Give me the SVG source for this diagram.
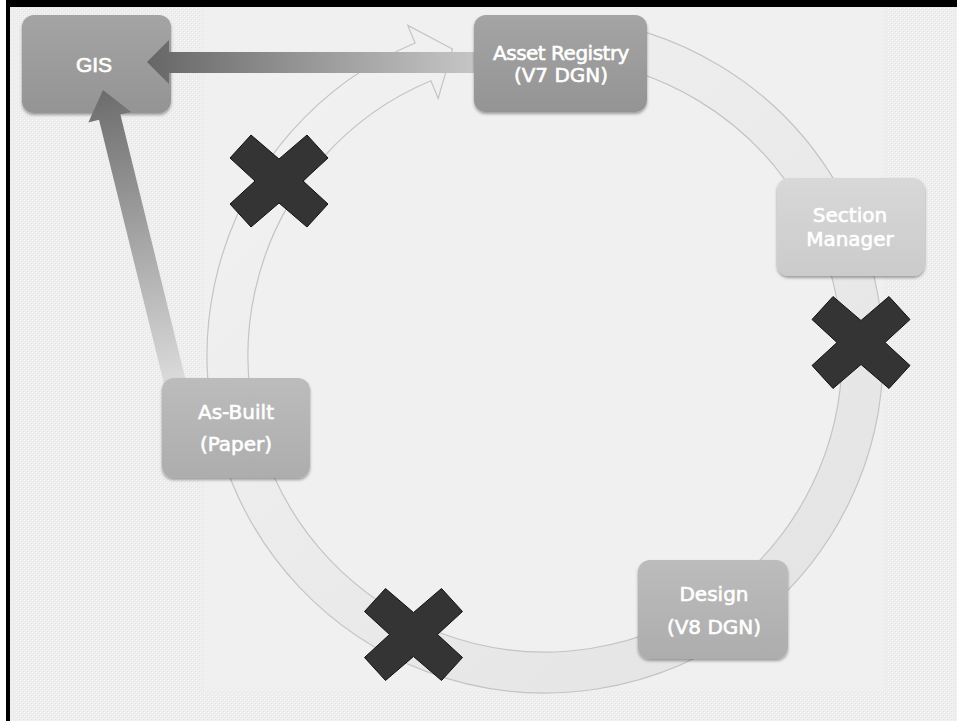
<svg xmlns="http://www.w3.org/2000/svg" width="957" height="721" viewBox="0 0 957 721">
<defs>
<style>
.lbl{font-family:"DejaVu Sans",sans-serif;font-size:20px;fill:#ffffff;stroke:#ffffff;stroke-width:0.6;text-anchor:middle}
.gis{font-family:"Liberation Sans",sans-serif;font-size:21px;fill:#ffffff;stroke:#ffffff;stroke-width:0.7;text-anchor:middle}
.box{filter:url(#sh)}
.x{fill:#343434;stroke:#111111;stroke-width:1}
</style>
<pattern id="tex" width="4" height="4" patternUnits="userSpaceOnUse">
<rect width="4" height="4" fill="#eeeeee"/>
<rect x="0" y="0" width="1" height="1" fill="#f7f7f7"/>
<rect x="2" y="2" width="1" height="1" fill="#f7f7f7"/>
<rect x="1" y="1" width="1" height="1" fill="#e6e6e6"/>
<rect x="3" y="3" width="1" height="1" fill="#e6e6e6"/>
</pattern>
<filter id="sh" x="-10%" y="-10%" width="120%" height="130%">
<feDropShadow dx="0" dy="2" stdDeviation="1.5" flood-color="#000" flood-opacity="0.35"/>
</filter>
<linearGradient id="gDark" x1="0" y1="0" x2="0" y2="1">
<stop offset="0" stop-color="#a4a4a4"/><stop offset="1" stop-color="#949494"/>
</linearGradient>
<linearGradient id="gMid" x1="0" y1="0" x2="0" y2="1">
<stop offset="0" stop-color="#bcbcbc"/><stop offset="1" stop-color="#adadad"/>
</linearGradient>
<linearGradient id="gLight" x1="0" y1="0" x2="0" y2="1">
<stop offset="0" stop-color="#d8d8d8"/><stop offset="1" stop-color="#cbcbcb"/>
</linearGradient>
<linearGradient id="gRing" gradientUnits="userSpaceOnUse" x1="250" y1="60" x2="840" y2="690">
<stop offset="0" stop-color="#f2f2f2"/><stop offset="1" stop-color="#e3e3e3"/>
</linearGradient>
<linearGradient id="gH" gradientUnits="userSpaceOnUse" x1="147" y1="0" x2="476" y2="0">
<stop offset="0" stop-color="#666666"/><stop offset="0.5" stop-color="#989898"/><stop offset="1" stop-color="#c6c6c6"/>
</linearGradient>
<linearGradient id="gD" gradientUnits="userSpaceOnUse" x1="103" y1="90" x2="179" y2="400">
<stop offset="0" stop-color="#6c6c6c"/><stop offset="1" stop-color="#e2e2e2"/>
</linearGradient>
<path id="xm" d="M-28,-46 L0,-22 L28,-46 L49,-23 L24,0 L49,23 L28,46 L0,22 L-28,46 L-49,23 L-24,0 L-49,-23 Z"/>
</defs>

<rect width="957" height="721" fill="#ffffff"/>
<rect x="7" y="0" width="950" height="721" fill="url(#tex)"/>
<rect x="205" y="7" width="677" height="683" fill="#f0f0f0"/>
<rect x="6" y="0" width="951" height="7" fill="#000000"/>
<rect x="6" y="0" width="4" height="721" fill="#000000"/>

<g id="cycle">
<path d="M574.46,18.29 A338,338 0 1 1 415.1,43.0 L407.8,25.4 L452.5,49 L438.2,98.4 L430.9,80.8 A297,297 0 1 0 570.89,59.13 Z" fill="url(#gRing)" stroke="#c4c4c4" stroke-width="1.2"/>
</g>

<g id="gis">
<rect class="box" x="22" y="15" width="149" height="98" rx="12" fill="url(#gDark)"/>
<text class="gis" x="94" y="72">GIS</text>
</g>

<g id="connectors">
<path d="M147,62 L169,40 L169,52 L476,52 L476,73 L169,73 L169,84 Z" fill="url(#gH)"/>
<path d="M103,90 L131.1,111.9 L120.4,114.6 L190,397.4 L168.6,402.6 L99,119.8 L88.3,122.5 Z" fill="url(#gD)"/>
</g>

<g id="asset-registry">
<rect class="box" x="474" y="15" width="173" height="97" rx="12" fill="url(#gDark)"/>
<text class="lbl" x="561" y="60" letter-spacing="-0.5">Asset Registry</text>
<text class="lbl" x="561" y="82">(V7 DGN)</text>
</g>

<g id="section-manager">
<rect class="box" x="777" y="178" width="148" height="98" rx="12" fill="url(#gLight)"/>
<text class="lbl" x="850" y="222">Section</text>
<text class="lbl" x="850" y="246">Manager</text>
</g>

<g id="as-built">
<rect class="box" x="162" y="378" width="148" height="100" rx="12" fill="url(#gMid)"/>
<text class="lbl" x="236" y="419">As-Built</text>
<text class="lbl" x="236" y="451">(Paper)</text>
</g>

<g id="design">
<rect class="box" x="638" y="560" width="150" height="99" rx="12" fill="url(#gMid)"/>
<text class="lbl" x="714" y="601">Design</text>
<text class="lbl" x="714" y="634">(V8 DGN)</text>
</g>

<g id="blocked">
<use href="#xm" class="x" x="279" y="181"/>
<use href="#xm" class="x" x="861" y="342.5"/>
<use href="#xm" class="x" x="413.5" y="634.5"/>
</g>
</svg>
